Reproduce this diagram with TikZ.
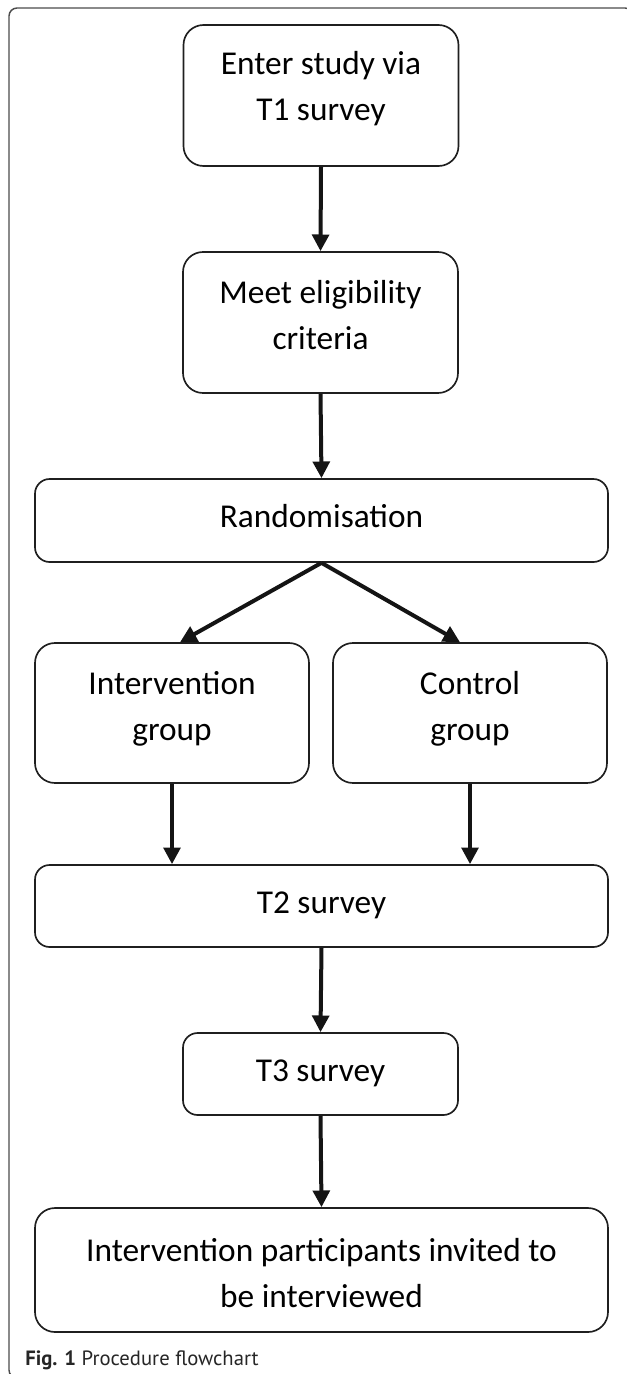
\documentclass[tikz,border=0pt]{standalone}
\usepackage{fontspec}
\setmainfont{Carlito}
\newfontfamily\capfont{PT Sans}
\usetikzlibrary{arrows.meta}
\newcommand\Tp[1]{\rule{0pt}{#1}}
\newcommand\Bt[1]{\rule[-#1]{0pt}{0pt}}
\begin{document}
\begin{tikzpicture}[x=0.75pt,y=-0.75pt,
  box/.style={draw=black!88, line width=1.25pt, rounded corners=#1, align=center,
    font=\fontsize{25}{34.5}\selectfont, inner sep=0pt, text=black},
  box/.default=15pt,
  arr/.style={line width=3pt, draw=black!92, -{Triangle[length=12.5pt,width=12.5pt]}},
  frame/.style={draw=black!70, line width=1.1pt, rounded corners=6pt},
]
\useasboundingbox (0,0) rectangle (627,1374);
\draw[frame] (633,40) -- (633,8) -- (9,8) -- (9,1378) -- (60,1378);

\node[box, minimum width=206.25pt, minimum height=105.75pt] (b1) at (321,95.5) {\Tp{20pt}Enter study via\\T1 survey\Bt{17pt}};
\node[box, minimum width=206.25pt, minimum height=105.75pt] (b2) at (320.5,322.5) {\Tp{20pt}Meet eligibility\\criteria\Bt{14pt}};
\node[box=11pt, minimum width=429.75pt, minimum height=62.25pt] (rand) at (321.5,520.5) {\Tp{20pt}Randomisation\Bt{9.5pt}};
\node[box, minimum width=205.5pt, minimum height=105pt] (int) at (172,713) {\Tp{20pt}Intervention\\group\Bt{14pt}};
\node[box, minimum width=205.5pt, minimum height=105pt] (ctl) at (470,713) {\Tp{20pt}Control\\group\Bt{14pt}};
\node[box=11pt, minimum width=429.75pt, minimum height=61.5pt] (t2) at (321.5,906) {\Tp{20pt}T2 survey\Bt{9.5pt}};
\node[box=11pt, minimum width=206.25pt, minimum height=61.5pt] (t3) at (320.5,1074) {\Tp{20pt}T3 survey\Bt{9.5pt}};
\node[box, minimum width=429.75pt, minimum height=93pt] (fin) at (321.5,1270) {\Tp{25pt}Intervention participants invited to\\be interviewed\Bt{4pt}};

\node[anchor=base west, inner sep=0pt, font=\capfont\fontsize{15.5}{18}\selectfont, text=black!85] (cap) at (25,1365) {\textbf{Fig. 1} Procedure flowchart};

\draw[arr] (b1.south) -- (b2.north);
\draw[arr] (b2.south) -- (rand.north);
\draw[arr] (rand.south) -- ([xshift=6pt]int.north);
\draw[arr] (rand.south) -- ([xshift=-7.5pt]ctl.north);
\draw[arr] (int.south) -- (int.south |- t2.north);
\draw[arr] (ctl.south) -- (ctl.south |- t2.north);
\draw[arr] (t2.south) -- (t3.north);
\draw[arr] (t3.south) -- (fin.north);
\end{tikzpicture}
\end{document}
